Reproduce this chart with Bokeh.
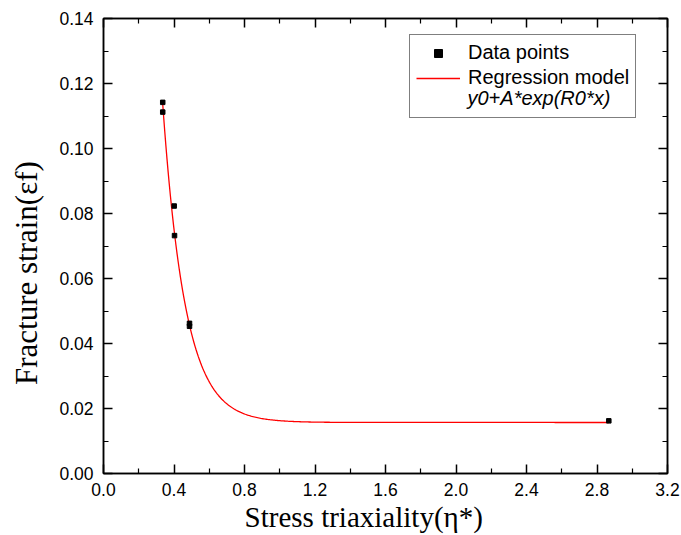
import numpy as np
from bokeh.plotting import figure
from bokeh.models import (LinearAxis, FixedTicker, Range1d, Legend, LegendItem, Label)
from bokeh.embed import file_html
from bokeh.resources import INLINE

# ---- data ----
eta = [0.336, 0.336, 0.401, 0.403, 0.488, 0.488, 2.867]
strain = [0.1142, 0.1112, 0.0823, 0.0732, 0.0462, 0.0453, 0.0162]

# regression model y0 + A*exp(R0*x), fitted parameters
fit_y0 = 0.0157
fit_A = 1.347
fit_R0 = -7.8
fit_x_start = 0.335
fit_x_end = 2.867

x_ticks = [0.0, 0.4, 0.8, 1.2, 1.6, 2.0, 2.4, 2.8, 3.2]
y_ticks = [0.00, 0.02, 0.04, 0.06, 0.08, 0.10, 0.12, 0.14]
x_minor = [0.2, 0.6, 1.0, 1.4, 1.8, 2.2, 2.6, 3.0]
y_minor = [0.01, 0.03, 0.05, 0.07, 0.09, 0.11, 0.13]

NB = "\u00a0"
x_label = "Stress triaxiality(η*)" + NB * 6
y_label = "Fracture strain(εf)" + NB * 7
legend_labels = ["Data points", "Regression model", "y0+A*exp(R0*x)"]

# ---- figure ----
p = figure(width=681, height=535, output_backend="svg", toolbar_location=None,
           x_range=Range1d(0, 3.2), y_range=Range1d(0, 0.14),
           x_axis_type=None, y_axis_type=None,
           min_border_left=103, min_border_right=14, min_border_top=18, min_border_bottom=59)
p.background_fill_color = "white"
p.border_fill_color = "white"
p.outline_line_color = "black"
p.outline_line_width = 1.5
p.xgrid.visible = False
p.ygrid.visible = False

TICK_FONT = "Liberation Sans"
LABEL_FONT = "Liberation Serif"


def style_axis(ax):
    ax.axis_line_width = 1.5
    ax.axis_line_color = "black"
    ax.major_tick_in = 9
    ax.major_tick_out = 0
    ax.minor_tick_in = 5
    ax.minor_tick_out = 0
    ax.major_tick_line_width = 1.5
    ax.minor_tick_line_width = 1.2
    ax.major_tick_line_color = "black"
    ax.minor_tick_line_color = "black"
    ax.major_label_text_font = TICK_FONT
    ax.major_label_text_font_size = "17.5px"
    ax.major_label_text_color = "black"
    ax.axis_label_text_color = "black"


xt = FixedTicker(ticks=x_ticks, minor_ticks=x_minor)
yt = FixedTicker(ticks=y_ticks, minor_ticks=y_minor)

xb = LinearAxis(ticker=xt, axis_label=x_label)
xb.major_label_overrides = {t: f"{t:.1f}" for t in x_ticks}
style_axis(xb)
xb.major_label_standoff = 9
xb.axis_label_text_font = LABEL_FONT
xb.axis_label_text_font_size = "29px"
xb.axis_label_text_font_style = "normal"
xb.axis_label_standoff = 2
p.add_layout(xb, "below")

yl = LinearAxis(ticker=yt, axis_label=y_label)
yl.major_label_overrides = {t: f"{t:.2f}" for t in y_ticks}
style_axis(yl)
yl.major_label_standoff = 10
yl.axis_label_text_font = LABEL_FONT
yl.axis_label_text_font_size = "31px"
yl.axis_label_text_font_style = "normal"
yl.axis_label_standoff = 12
p.add_layout(yl, "left")

xa = LinearAxis(ticker=xt)
style_axis(xa)
xa.major_label_overrides = {t: "" for t in x_ticks}
xa.major_label_standoff = 0
p.add_layout(xa, "above")

yr = LinearAxis(ticker=yt)
style_axis(yr)
yr.major_label_overrides = {t: "" for t in y_ticks}
yr.major_label_standoff = 0
p.add_layout(yr, "right")

# ---- regression curve ----
xs = np.linspace(fit_x_start, fit_x_end, 400)
ys = fit_y0 + fit_A * np.exp(fit_R0 * xs)
curve = p.line(xs, ys, line_color="#ff0000", line_width=1.3)

# ---- data points ----
pts = p.scatter(eta, strain, marker="square", size=4.5, fill_color="black", line_color="black")

# invisible renderer for the third (equation) legend row
dummy = p.scatter([], [], size=0, alpha=0)

legend = Legend(items=[LegendItem(label=legend_labels[0], renderers=[pts]),
                       LegendItem(label=legend_labels[1], renderers=[curve]),
                       LegendItem(label=" ", renderers=[dummy])],
                location=(306, 355), margin=0, padding=6, spacing=2,
                glyph_width=44, glyph_height=20, label_height=20, label_standoff=8,
                label_text_font=TICK_FONT, label_text_font_size="20px",
                label_text_color="black",
                border_line_color="black", border_line_width=1.2,
                background_fill_alpha=0.0)
p.add_layout(legend, "center")

eq = Label(x=364, y=376, x_units="screen", y_units="screen",
           text=legend_labels[2], text_font=TICK_FONT, text_font_size="20px",
           text_font_style="italic", text_baseline="middle", text_align="left",
           text_color="black")
p.add_layout(eq, "center")

open("out.html", "w").write(file_html(p, INLINE))
